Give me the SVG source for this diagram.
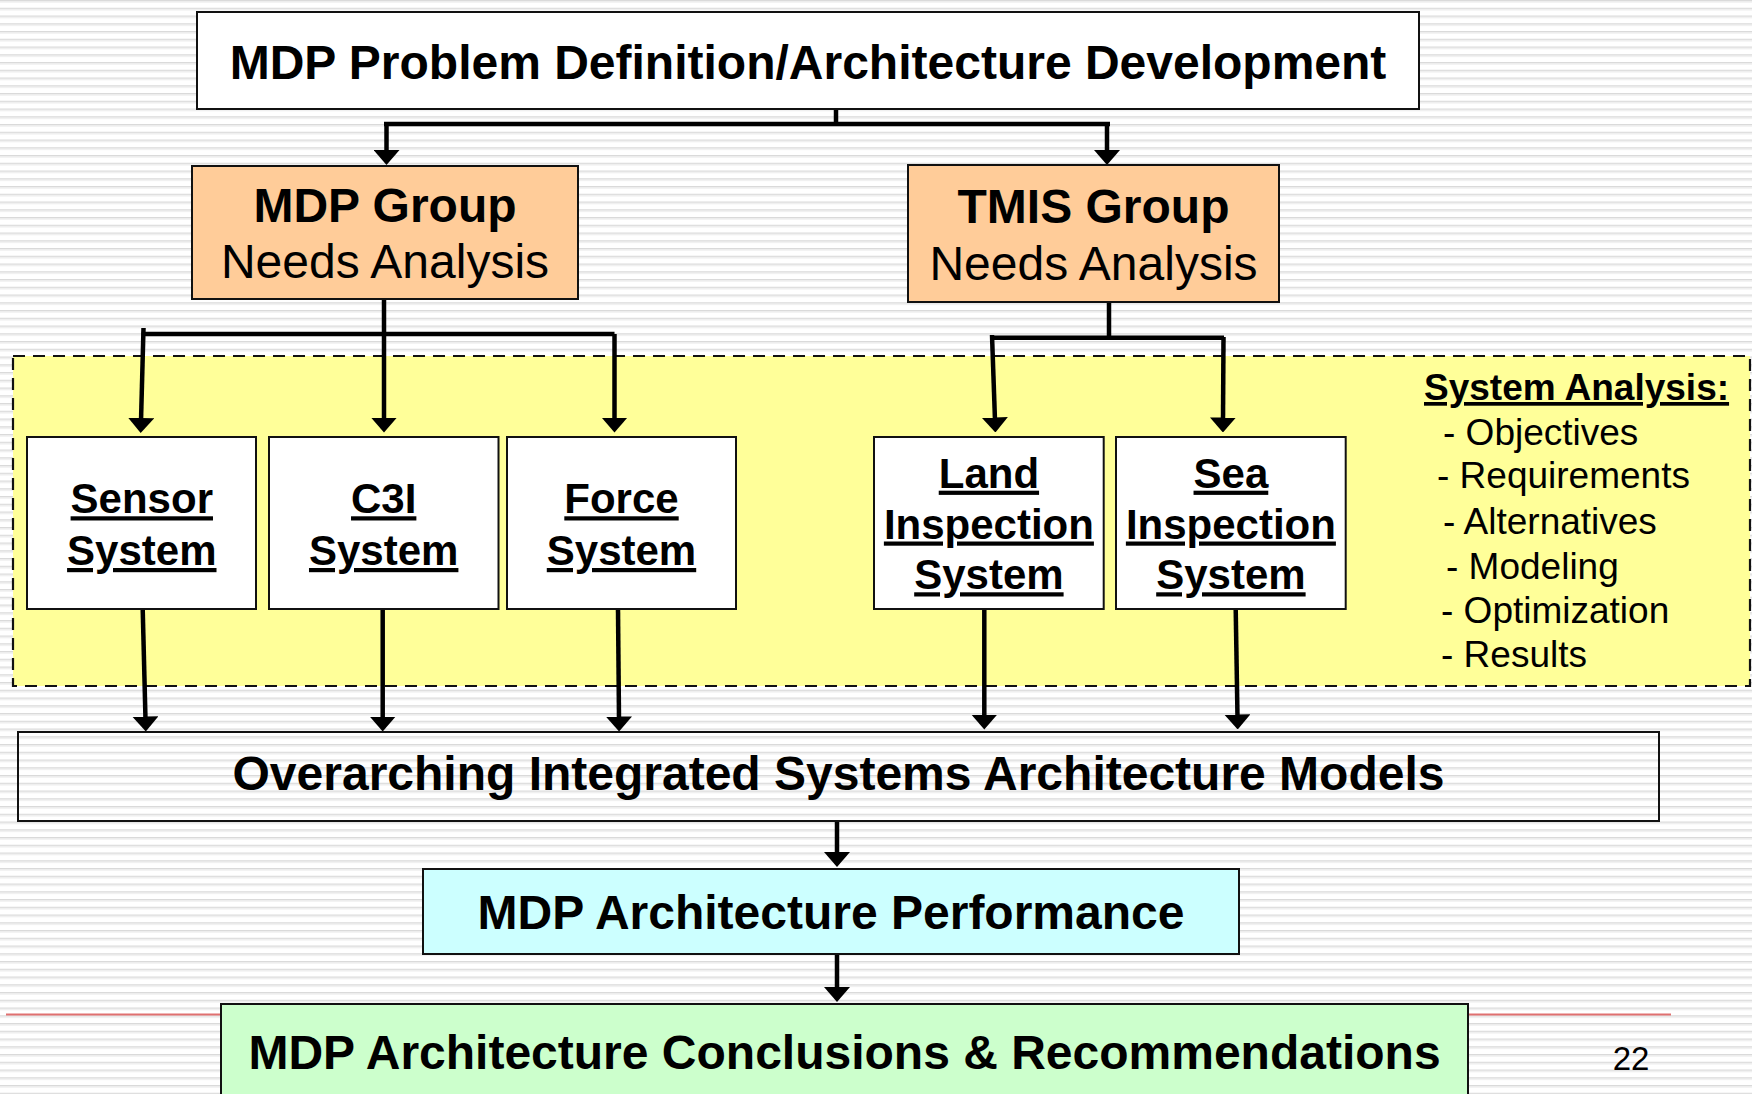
<svg xmlns="http://www.w3.org/2000/svg" width="1752" height="1094" viewBox="0 0 1752 1094">
<style>
text{font-family:"Liberation Sans",Arial,sans-serif;fill:#000}
.b{font-weight:bold}
.t48{font-size:48px}
.t42{font-size:42px;font-weight:bold;text-decoration:underline}
.t37{font-size:37px}
.box{stroke:#111;stroke-width:2}
.con{stroke:#000;stroke-width:4.5;fill:none}
.arr{marker-end:url(#ah)}
</style>
<defs>
<pattern id="stripes" patternUnits="userSpaceOnUse" width="16" height="7.75">
<rect width="16" height="7.75" fill="#ffffff"/>
<rect y="0" width="16" height="1.4" fill="#dadada"/>
<rect y="1.4" width="16" height="1.2" fill="#ededed"/>
</pattern>
<marker id="ah" viewBox="0 0 15 26" refX="3" refY="13" markerWidth="15" markerHeight="26" orient="auto" markerUnits="userSpaceOnUse">
<path d="M0,0 L15,13 L0,26 z" fill="#000"/>
</marker>
</defs>
<rect width="1752" height="1094" fill="url(#stripes)"/>
<rect id="system-analysis-region" x="13" y="356" width="1737" height="330" fill="#ffff99" stroke="#111" stroke-width="2.2" stroke-dasharray="12 8"/>
<line x1="6" y1="1014.5" x2="1671" y2="1014.5" stroke="#e07070" stroke-width="2"/>

<g id="connectors">
<polyline class="con" points="836,109 836,124"/>
<polyline class="con" points="384,124 1110,124"/>
<line class="con arr" x1="386.5" y1="124" x2="386.5" y2="153"/>
<line class="con arr" x1="1107" y1="124" x2="1107" y2="153"/>

<polyline class="con" points="141.7,334 614.5,334"/>
<line class="con arr" x1="143.5" y1="328" x2="141" y2="421"/>
<line class="con arr" x1="384" y1="299" x2="384" y2="420.5"/>
<line class="con arr" x1="614.5" y1="334" x2="614.5" y2="420.5"/>

<polyline class="con" points="1109,302 1109,337.7"/>
<polyline class="con" points="993,337.7 1224,337.7"/>
<line class="con arr" x1="992" y1="335" x2="995" y2="420.5"/>
<line class="con arr" x1="1223.5" y1="337" x2="1223" y2="420.5"/>

<line class="con arr" x1="142.7" y1="609" x2="145.5" y2="719.5"/>
<line class="con arr" x1="382.7" y1="609" x2="382.7" y2="719.5"/>
<line class="con arr" x1="618" y1="609" x2="619" y2="719.5"/>
<line class="con arr" x1="984.3" y1="609" x2="984.3" y2="717.5"/>
<line class="con arr" x1="1235.7" y1="609" x2="1237.5" y2="717.5"/>

<line class="con arr" x1="837" y1="821" x2="837" y2="855"/>
<line class="con arr" x1="837" y1="954" x2="837" y2="990"/>
</g>

<g id="problem-definition">
<rect class="box" x="197" y="12" width="1222" height="97" fill="#fff"/>
<text class="b t48" x="808" y="79" text-anchor="middle">MDP Problem Definition/Architecture Development</text>
</g>

<g id="mdp-group">
<rect class="box" x="192" y="166" width="386" height="133" fill="#ffcc99"/>
<text class="b t48" x="385" y="221.7" text-anchor="middle">MDP Group</text>
<text class="t48" x="385" y="278" text-anchor="middle">Needs Analysis</text>
</g>

<g id="tmis-group">
<rect class="box" x="908" y="165" width="371" height="137" fill="#ffcc99"/>
<text class="b t48" x="1093.5" y="223" text-anchor="middle">TMIS Group</text>
<text class="t48" x="1093.5" y="280" text-anchor="middle">Needs Analysis</text>
</g>

<g id="sensor-system">
<rect class="box" x="27" y="437" width="229" height="172" fill="#fff"/>
<text class="t42" x="141.8" y="513.3" text-anchor="middle">Sensor</text>
<text class="t42" x="141.8" y="565" text-anchor="middle">System</text>
</g>

<g id="c3i-system">
<rect class="box" x="269" y="437" width="229.5" height="172" fill="#fff"/>
<text class="t42" x="383.7" y="513.3" text-anchor="middle">C3I</text>
<text class="t42" x="383.7" y="565" text-anchor="middle">System</text>
</g>

<g id="force-system">
<rect class="box" x="507" y="437" width="229" height="172" fill="#fff"/>
<text class="t42" x="621.5" y="513.3" text-anchor="middle">Force</text>
<text class="t42" x="621.5" y="565" text-anchor="middle">System</text>
</g>

<g id="land-inspection-system">
<rect class="box" x="874" y="437" width="229.7" height="172" fill="#fff"/>
<text class="t42" x="988.9" y="487.7" text-anchor="middle">Land</text>
<text class="t42" x="988.9" y="538.5" text-anchor="middle">Inspection</text>
<text class="t42" x="988.9" y="589.3" text-anchor="middle">System</text>
</g>

<g id="sea-inspection-system">
<rect class="box" x="1116" y="437" width="229.7" height="172" fill="#fff"/>
<text class="t42" x="1230.9" y="487.7" text-anchor="middle">Sea</text>
<text class="t42" x="1230.9" y="538.5" text-anchor="middle">Inspection</text>
<text class="t42" x="1230.9" y="589.3" text-anchor="middle">System</text>
</g>

<g id="system-analysis-list">
<text class="b t37" x="1424" y="400" text-decoration="underline">System Analysis:</text>
<text class="t37" x="1443" y="445">- Objectives</text>
<text class="t37" x="1437" y="488.3">- Requirements</text>
<text class="t37" x="1443" y="534.3">- Alternatives</text>
<text class="t37" x="1446" y="579.3">- Modeling</text>
<text class="t37" x="1441" y="623.3">- Optimization</text>
<text class="t37" x="1441" y="666.7">- Results</text>
</g>

<g id="integrated-models">
<rect class="box" x="18" y="732" width="1641" height="89" fill="none"/>
<text class="b t48" x="838.5" y="790" text-anchor="middle">Overarching Integrated Systems Architecture Models</text>
</g>

<g id="architecture-performance">
<rect class="box" x="423" y="869" width="816" height="85" fill="#ccffff"/>
<text class="b t48" x="831" y="929" text-anchor="middle">MDP Architecture Performance</text>
</g>

<g id="conclusions">
<rect class="box" x="221" y="1004" width="1247" height="100" fill="#ccffcc"/>
<text class="b t48" x="844.5" y="1069.3" text-anchor="middle">MDP Architecture Conclusions &amp; Recommendations</text>
</g>

<text id="page-number" x="1631" y="1070" text-anchor="middle" font-size="33" fill="#222">22</text>
</svg>
